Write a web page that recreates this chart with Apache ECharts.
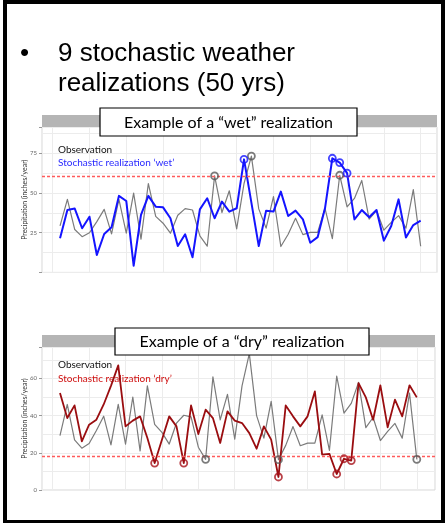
<!DOCTYPE html>
<html>
<head>
<meta charset="utf-8">
<script src="https://cdn.jsdelivr.net/npm/echarts@6/dist/echarts.min.js"></script>
<style>
  html, body { margin: 0; padding: 0; background: #ffffff; }
  #chart { width: 445px; height: 523px; }
</style>
</head>
<body>
<div id="chart"></div>
<script>
// Simulation years 1..50
const years = Array.from({ length: 50 }, (_, i) => i + 1);

// Observed annual precipitation (inches/year)
const observed = [29.3, 46, 27, 22.5, 25, 32, 39.7, 24.3, 46, 24.7,
                  50, 21, 56, 35.3, 31, 24.7, 36, 40.2, 39.3, 23,
                  16.5, 60.8, 37.7, 51.4, 27.4, 56, 73.3, 40, 27.9, 47.7,
                  16.3, 24, 34.1, 23.8, 25.2, 25.2, 40.4, 21.3, 61.2, 41.3,
                  46.6, 57.9, 33.5, 39, 26.6, 31.5, 35.8, 27.9, 52.1, 16.5];

// Stochastic realization 'wet'
const wetRealization = [21.5, 39.3, 40.2, 27.8, 35.1, 11, 24.2, 28.4, 48.2, 45,
                        4.2, 36.2, 48.2, 41.4, 41, 34.1, 16.6, 24, 9.5, 39.7,
                        46.7, 34.1, 44.6, 38.3, 40.4, 71.2, 44, 16.6, 38.9, 38.3,
                        50.9, 35.5, 38.9, 33.4, 18.7, 22.2, 40.4, 71.9, 69.2, 62.5,
                        33.4, 39.3, 34.7, 39.3, 20, 29.2, 46, 22, 29.8, 32.6];

// Stochastic realization 'dry'
const dryRealization = [52.2, 38.7, 45.5, 26.2, 35.1, 37.8, 46, 56, 67, 34.2,
                        37.3, 39.6, 28, 14.5, 27, 39.6, 34.2, 14.5, 45.5, 30.1,
                        43.2, 38.7, 25.3, 42.3, 37.3, 36, 30.6, 22.2, 34.2, 27.1,
                        7, 45.5, 39.6, 34.2, 39.6, 53, 19, 19.4, 8.6, 16.8,
                        15.8, 57.5, 49.8, 37.8, 56.3, 33.7, 48.6, 39.6, 56.3, 49.8];

// Extreme-year thresholds
const wetThreshold = 60.4;
const dryThreshold = 18.4;

// Y tick labels
const wetTicks = [25, 50, 75];
const dryTicks = [0, 20, 40, 60];

const FONT = 'Lato, "Open Sans", sans-serif';
const GRID_LINE = '#ececec';

const pairs = vals => years.map((y, i) => [y, vals[i]]);
const beyond = (vals, test) => pairs(vals).filter(p => test(p[1]));

function splitAxis(gridIndex, max, interval) {
  return {
    type: 'value', gridIndex, position: 'left', min: 0, max, interval,
    axisLine: { show: false }, axisTick: { show: false }, axisLabel: { show: false },
    splitLine: { show: true, lineStyle: { color: GRID_LINE, width: 1 } }
  };
}
function labelAxis(gridIndex, max, interval, ticks) {
  return {
    type: 'value', gridIndex, position: 'left', offset: 0, min: 0, max, interval,
    name: 'Precipitation (inches/year)',
    nameLocation: 'middle', nameGap: 14, nameMoveOverlap: false,
    nameTextStyle: { fontSize: 7, color: '#333', fontFamily: FONT },
    axisLine: { show: false },
    axisTick: { show: true, length: 3, lineStyle: { color: '#999' } },
    axisLabel: {
      margin: 5, fontSize: 6, color: '#666', fontFamily: FONT,
      formatter: v => (ticks.includes(v) ? String(v) : '')
    },
    splitLine: { show: false }
  };
}
function xAxis(gridIndex, min, max) {
  return {
    type: 'value', gridIndex, min, max, splitNumber: 10,
    axisLine: { show: false }, axisTick: { show: false }, axisLabel: { show: false },
    splitLine: { show: true, lineStyle: { color: GRID_LINE, width: 1 } }
  };
}
function lineSeries(name, vals, axisIdx, color, width, z, mark) {
  const s = {
    name, type: 'line', data: pairs(vals), xAxisIndex: axisIdx, yAxisIndex: axisIdx * 2 + 1,
    showSymbol: false, symbol: 'none', z,
    lineStyle: { color, width, join: 'round' }
  };
  if (mark !== undefined) {
    s.markLine = {
      silent: true, symbol: 'none', label: { show: false },
      lineStyle: { color: '#ff5b5b', width: 1.3, type: [3, 2] },
      data: [{ yAxis: mark }]
    };
  }
  return s;
}
function circleSeries(data, axisIdx, color) {
  return {
    type: 'scatter', data, xAxisIndex: axisIdx, yAxisIndex: axisIdx * 2 + 1,
    symbol: 'circle', symbolSize: 7, z: 5,
    itemStyle: { color: 'rgba(0,0,0,0)', borderColor: color, borderWidth: 1.8 }
  };
}

const chart = echarts.init(document.getElementById('chart'), null, { renderer: 'canvas' });

chart.setOption({
  animation: false,
  backgroundColor: '#ffffff',
  grid: [
    { left: 42, top: 127, width: 395, height: 145.4, show: true, borderColor: '#d6d6d6', borderWidth: 1, backgroundColor: 'transparent' },
    { left: 42, top: 347, width: 393, height: 143, show: true, borderColor: '#d6d6d6', borderWidth: 1, backgroundColor: 'transparent' }
  ],
  xAxis: [xAxis(0, -1.45, 52.22), xAxis(1, -1.47, 52.5)],
  yAxis: [
    splitAxis(0, 91.6, 12.5), labelAxis(0, 91.6, 25, wetTicks),
    splitAxis(1, 76.9, 10), labelAxis(1, 76.9, 20, dryTicks)
  ],
  series: [
    lineSeries('Observation', observed, 0, '#7b7b7b', 1.2, 2, wetThreshold),
    lineSeries('Stochastic realization wet', wetRealization, 0, '#1414ff', 2, 3),
    circleSeries(beyond(observed, v => v > wetThreshold), 0, '#5a5a5a'),
    circleSeries(beyond(wetRealization, v => v > wetThreshold), 0, '#1414ff'),

    lineSeries('Observation', observed, 1, '#7b7b7b', 1.2, 2, dryThreshold),
    lineSeries('Stochastic realization dry', dryRealization, 1, '#9a0d10', 1.8, 3),
    circleSeries(beyond(observed, v => v < dryThreshold), 1, '#5a5a5a'),
    circleSeries(beyond(dryRealization, v => v < dryThreshold), 1, '#a8121a')
  ],
  graphic: [
    // slide frame
    { type: 'rect', z: 100, shape: { x: 5, y: 2, width: 438, height: 520 },
      style: { fill: 'none', stroke: '#000', lineWidth: 4 } },
    // bullet text
    { type: 'text', z: 100, style: { x: 20, y: 54, text: '•', font: '26px "Liberation Sans", Arial, sans-serif', fill: '#000', verticalAlign: 'middle' } },
    { type: 'text', z: 100, style: { x: 58, y: 54.3, text: '9 stochastic weather', font: '26px "Liberation Sans", Arial, sans-serif', fill: '#000', verticalAlign: 'middle' } },
    { type: 'text', z: 100, style: { x: 58, y: 83.5, text: 'realizations (50 yrs)', font: '26px "Liberation Sans", Arial, sans-serif', fill: '#000', verticalAlign: 'middle' } },

    // facet strips
    { type: 'rect', z: 50, shape: { x: 42, y: 115, width: 395, height: 12 }, style: { fill: '#b5b5b5' } },
    { type: 'rect', z: 50, shape: { x: 42, y: 335, width: 393, height: 12 }, style: { fill: '#b5b5b5' } },

    // title boxes
    { type: 'rect', z: 60, shape: { x: 100, y: 108, width: 257, height: 28 }, style: { fill: '#fff', stroke: '#000', lineWidth: 1.2 } },
    { type: 'text', z: 61, style: { x: 228.5, y: 122.5, text: 'Example of a “wet” realization', font: '16px ' + FONT, fill: '#000', align: 'center', verticalAlign: 'middle' } },
    { type: 'rect', z: 60, shape: { x: 115, y: 328, width: 254, height: 27 }, style: { fill: '#fff', stroke: '#000', lineWidth: 1.2 } },
    { type: 'text', z: 61, style: { x: 242, y: 342, text: 'Example of a “dry” realization', font: '16px ' + FONT, fill: '#000', align: 'center', verticalAlign: 'middle' } },

    // in-panel legend labels
    { type: 'text', z: 1, style: { x: 58, y: 149.5, text: 'Observation', font: '10px ' + FONT, fill: '#111', verticalAlign: 'middle' } },
    { type: 'text', z: 1, style: { x: 58, y: 163, text: 'Stochastic realization ‘wet’', font: '10px ' + FONT, fill: '#2a2aff', verticalAlign: 'middle' } },
    { type: 'text', z: 1, style: { x: 58, y: 365, text: 'Observation', font: '10px ' + FONT, fill: '#111', verticalAlign: 'middle' } },
    { type: 'text', z: 1, style: { x: 58, y: 378.3, text: 'Stochastic realization ‘dry’', font: '10px ' + FONT, fill: '#d01010', verticalAlign: 'middle' } }
  ]
});
</script>
</body>
</html>
